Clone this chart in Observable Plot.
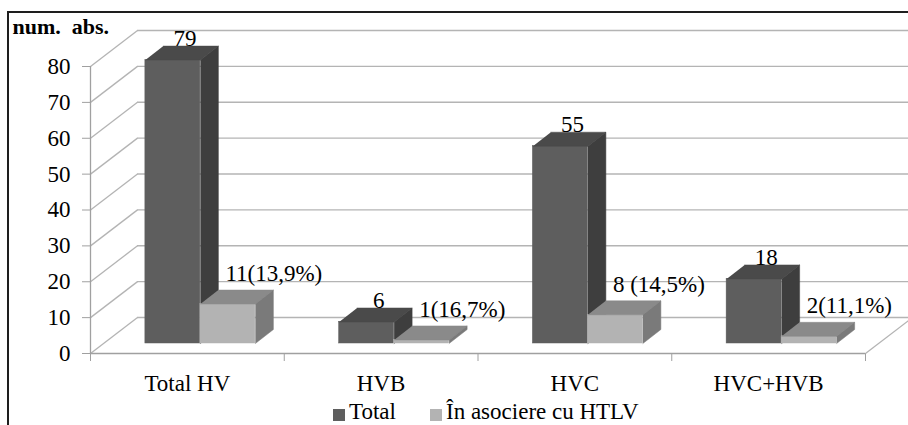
<!DOCTYPE html>
<html>
<head>
<meta charset="utf-8">
<script src="https://cdn.jsdelivr.net/npm/d3@7"></script>
<script src="https://cdn.jsdelivr.net/npm/@observablehq/plot@0.6"></script>
<style>
  html, body { margin: 0; padding: 0; background: #fff; overflow: hidden; width: 908px; height: 425px; }
  #wrap { position: relative; width: 908px; height: 425px; font-family: "Liberation Serif", "Times New Roman", serif; }
  #frame { position: absolute; left: 7px; top: 11px; right: -10px; bottom: -10px; border-left: 2px solid #1e1e1e; border-top: 2px solid #1e1e1e; }
  #chart { position: absolute; left: 0; top: 0; }
  #chart svg, #chart svg text { font-family: "Liberation Serif", "Times New Roman", serif !important; }
  #chart g[aria-label$="axis tick"] { stroke: #a0a0a0; }
  #chart .tick line { stroke: #a0a0a0; }
  .lg { position: absolute; font-size: 23px; line-height: 23px; color: #000; white-space: nowrap; }
  .sq { position: absolute; width: 12px; height: 12px; }
</style>
</head>
<body>
<div id="wrap">
  <div id="frame"></div>
  <div id="chart"></div>
  <div id="legend"></div>
</div>
<script>
// ---- data ----
const categories = ["Total HV", "HVB", "HVC", "HVC+HVB"];
const totalValues = [79, 6, 55, 18];
const htlvValues = [11, 1, 8, 2];
const htlvLabels = ["11(13,9%)", "1(16,7%)", "8 (14,5%)", "2(11,1%)"];
const yTicks = [0, 10, 20, 30, 40, 50, 60, 70, 80];
const seriesNames = ["Total", "În asociere cu HTLV"];
const yTitle = "num.  abs.";

// ---- layout / style ----
const W = 908, H = 425, ML = 90, MR = 43, MT = 66, MB = 72;
const yMax = 80;
const FS = 23;
const pxPerX = (W - ML - MR) / categories.length;
const pxPerY = (H - MT - MB) / yMax;
const BW = 55 / pxPerX;                 // bar width (band units)
const BDX = 18 / pxPerX, BDY = 14 / pxPerY;  // bar depth
const WDX = 47 / pxPerX, WDY = 36 / pxPerY;  // wall depth
const OFF_X = 13, OFF_Y = -10;          // bar plane offset (px)
const gridColor = "#b4b4b4", axisColor = "#a0a0a0";
const colors = [
  {front: "#5e5e5e", top: "#4a4a4a", side: "#3e3e3e"},
  {front: "#b3b3b3", top: "#8a8a8a", side: "#7a7a7a"}
];

function makeBars(values, s) {
  return values.map((v, i) => {
    const x1 = i + 0.5 - BW + s * BW;
    return {i, s, v, x1, x2: x1 + BW};
  });
}
const series = [makeBars(totalValues, 0), makeBars(htlvValues, 1)];

function topFaces(bars) {
  return bars.flatMap(b => [
    {id: b.i, x: b.x1, y: b.v}, {id: b.i, x: b.x2, y: b.v},
    {id: b.i, x: b.x2 + BDX, y: b.v + BDY}, {id: b.i, x: b.x1 + BDX, y: b.v + BDY}
  ]);
}
function sideFaces(bars) {
  return bars.flatMap(b => [
    {id: b.i, x: b.x2, y: 0}, {id: b.i, x: b.x2 + BDX, y: BDY},
    {id: b.i, x: b.x2 + BDX, y: b.v + BDY}, {id: b.i, x: b.x2, y: b.v}
  ]);
}

const barMarks = series.flatMap((bars, s) => [
  Plot.rect(bars, {x1: "x1", x2: "x2", y1: 0, y2: "v", fill: colors[s].front, stroke: colors[s].front, strokeWidth: 0.5, dx: OFF_X, dy: OFF_Y}),
  Plot.line(topFaces(bars), {x: "x", y: "y", z: "id", fill: colors[s].top, stroke: colors[s].top, strokeWidth: 0.5, dx: OFF_X, dy: OFF_Y}),
  Plot.line(sideFaces(bars), {x: "x", y: "y", z: "id", fill: colors[s].side, stroke: colors[s].side, strokeWidth: 0.5, dx: OFF_X, dy: OFF_Y})
]);

const chart = Plot.plot({
  width: W, height: H,
  marginLeft: ML, marginRight: MR, marginTop: MT, marginBottom: MB,
  style: {fontFamily: "'Liberation Serif', 'Times New Roman', serif", fontSize: FS + "px", background: "transparent", overflow: "visible", color: "#000"},
  x: {domain: [0, categories.length], ticks: [0, 1, 2, 3, 4], tickFormat: () => "", tickSize: 8, label: null},
  y: {domain: [0, yMax], ticks: yTicks, tickSize: 8, tickPadding: 12, label: null},
  marks: [
    // back wall gridlines
    Plot.ruleY(yTicks, {stroke: gridColor, strokeWidth: 1.3, dx: 47, dy: -36}),
    // side wall diagonals
    Plot.link(yTicks, {x1: 0, y1: d => d, x2: WDX, y2: d => d + WDY, stroke: gridColor, strokeWidth: 1.3}),
    // floor right edge
    Plot.link([categories.length], {x1: d => d, y1: 0, x2: d => d + WDX, y2: WDY, stroke: gridColor, strokeWidth: 1.3}),
    // front axes lines
    Plot.ruleX([0], {y1: 0, y2: yMax, stroke: axisColor, strokeWidth: 1.3}),
    Plot.ruleY([0], {stroke: axisColor, strokeWidth: 1.3}),
    ...barMarks,
    // value labels
    Plot.text(series[0], {x: d => (d.x1 + d.x2) / 2, y: "v", text: d => String(d.v), dx: 25, dy: -24, lineAnchor: "bottom", fontSize: FS, fill: "#000"}),
    Plot.text(series[1], {x: "x1", y: "v", text: d => htlvLabels[d.i], textAnchor: "start", dx: 38, dy: -33, lineAnchor: "bottom", fontSize: FS, fill: "#000"}),
    // category labels
    Plot.text(categories, {x: (d, i) => i + 0.5, y: 0, text: d => d, dy: 37, lineAnchor: "bottom", fontSize: FS, fill: "#000"}),
    // y title
    Plot.text([yTitle], {frameAnchor: "top-left", text: d => d, textAnchor: "start", lineAnchor: "bottom", dx: -78, dy: -33, fontSize: 22, fontWeight: "bold", fill: "#000"})
  ]
});
document.getElementById("chart").appendChild(chart);

// legend
const legend = document.getElementById("legend");
const legendPos = [{sq: 333, tx: 349}, {sq: 430, tx: 446}];
seriesNames.forEach((name, s) => {
  const sq = document.createElement("div");
  sq.className = "sq";
  sq.style.left = legendPos[s].sq + "px";
  sq.style.top = "409px";
  sq.style.background = s === 0 ? colors[0].front : colors[1].front;
  legend.appendChild(sq);
  const t = document.createElement("div");
  t.className = "lg";
  t.style.left = legendPos[s].tx + "px";
  t.style.top = "400px";
  t.textContent = name;
  legend.appendChild(t);
});
</script>
</body>
</html>
